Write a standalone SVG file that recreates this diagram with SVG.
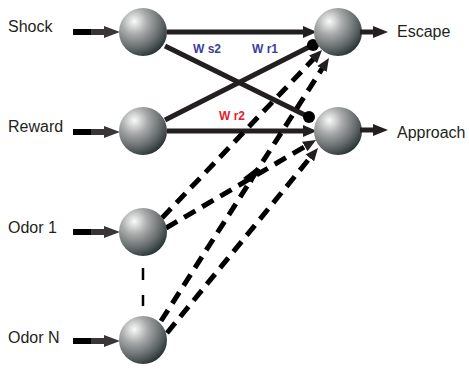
<svg xmlns="http://www.w3.org/2000/svg" width="469" height="371" viewBox="0 0 469 371">
<defs>
<radialGradient id="sph" cx="0.32" cy="0.28" r="0.78">
<stop offset="0" stop-color="#fafafa"/>
<stop offset="0.35" stop-color="#a9abab"/>
<stop offset="0.75" stop-color="#5f6566"/>
<stop offset="1" stop-color="#283233"/>
</radialGradient>
<linearGradient id="shaft" x1="0" x2="1" y1="0" y2="0">
<stop offset="0" stop-color="#000"/>
<stop offset="0.55" stop-color="#000"/>
<stop offset="0.56" stop-color="#3a3536"/>
<stop offset="1" stop-color="#3a3536"/>
</linearGradient>
<marker id="ah" markerUnits="userSpaceOnUse" markerWidth="16" markerHeight="14" refX="3" refY="7" orient="auto" viewBox="0 0 16 14">
<path d="M0,1 L14,7 L0,13 z" fill="#231f20"/>
</marker>
<marker id="ahd" markerUnits="userSpaceOnUse" markerWidth="16" markerHeight="14" refX="3" refY="7" orient="auto" viewBox="0 0 16 14">
<path d="M0,1.5 L13,7 L0,12.5 z" fill="#231f20"/>
</marker>
</defs>
<style>
.node{fill:url(#sph)}
.lbl{font-family:"Liberation Sans",Arial,sans-serif;font-size:16px;fill:#231f20}
.w{font-family:"Liberation Sans",Arial,sans-serif;font-size:12px;font-weight:bold}
.blue{fill:#3b3f98}
.red{fill:#e31e2b}
.solid{stroke:#231f20;stroke-width:5;fill:none}
.dash{stroke:#000;stroke-width:5;fill:none;stroke-dasharray:13 8}
.dot{fill:#000}
</style>
<g id="connectors">
<path class="solid" d="M167,32 L306,32" marker-end="url(#ah)"/>
<path class="solid" d="M167,131 L306,131" marker-end="url(#ah)"/>
<path class="solid" d="M165,46 L309,117"/>
<circle class="dot" cx="309" cy="117" r="6"/>
<path class="solid" d="M165,120 L313,45"/>
<circle class="dot" cx="313" cy="45" r="6"/>
<path class="dash" d="M162,218 L315.1,57.2" marker-end="url(#ahd)"/>
<path class="dash" d="M166,228 L307.4,145.1" marker-end="url(#ahd)"/>
<path class="dash" d="M161,321 L323.6,66.4" marker-end="url(#ahd)"/>
<path class="dash" d="M167,333 L311.7,155.7" marker-end="url(#ahd)"/>
<polygon points="243,178 256,168 253,183" fill="#000"/>
<path d="M143,268 L143,306" stroke="#000" stroke-width="2.5" stroke-dasharray="12 15"/>
</g>
<g id="labels">
<text class="w blue" x="193" y="53">W s2</text>
<text class="w blue" x="252" y="53">W r1</text>
<text class="w red" x="219" y="120">W r2</text>
</g>
<g id="shock">
<text class="lbl" x="8" y="32">Shock</text>
<rect x="73" y="29" width="33" height="6" fill="url(#shaft)"/>
<polygon points="104,26 120,32 104,38" fill="#3a3536"/>
<circle class="node" cx="143" cy="32" r="24"/>
</g>
<g id="reward">
<text class="lbl" x="8" y="132">Reward</text>
<rect x="73" y="129" width="33" height="6" fill="url(#shaft)"/>
<polygon points="104,126 120,132 104,138" fill="#3a3536"/>
<circle class="node" cx="143" cy="131" r="24"/>
</g>
<g id="odor1">
<text class="lbl" x="8" y="233">Odor 1</text>
<rect x="73" y="229" width="33" height="6" fill="url(#shaft)"/>
<polygon points="104,226 120,232 104,238" fill="#3a3536"/>
<circle class="node" cx="143" cy="232" r="24"/>
</g>
<g id="odorN">
<text class="lbl" x="8" y="343">Odor N</text>
<rect x="73" y="338" width="33" height="6" fill="url(#shaft)"/>
<polygon points="104,335 120,341 104,347" fill="#3a3536"/>
<circle class="node" cx="143" cy="340" r="24"/>
</g>
<g id="escape">
<circle class="node" cx="338" cy="32" r="24"/>
<rect x="360" y="29.5" width="14" height="5" fill="#231f20"/>
<polygon points="373,26 388,32 373,38" fill="#231f20"/>
<text class="lbl" x="397" y="37">Escape</text>
</g>
<g id="approach">
<circle class="node" cx="338" cy="131" r="24"/>
<rect x="360" y="127.5" width="14" height="5" fill="#231f20"/>
<polygon points="373,124 388,130 373,136" fill="#231f20"/>
<text class="lbl" x="397" y="138">Approach</text>
</g>
</svg>
